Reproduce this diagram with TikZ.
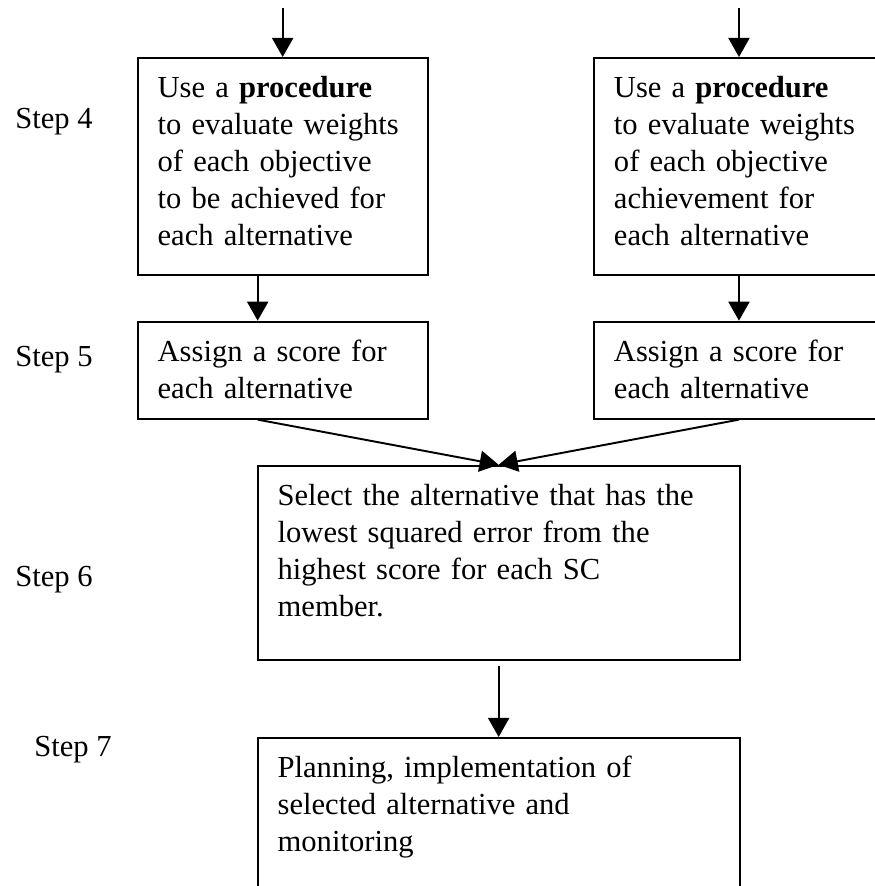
\documentclass[tikz,border=0pt]{standalone}
\usepackage{fontspec}
\setmainfont{Liberation Serif}
\usepackage{tikz}
\usetikzlibrary{arrows.meta}
\tikzset{
  box/.style={draw,line width=1.1pt,rectangle,anchor=north west,align=left,inner xsep=0.4cm,inner ysep=0pt,text height=0.79cm,font=\fontsize{17.4}{21.06}\selectfont},
  arr/.style={line width=1.1pt,-{Triangle[length=0.38cm,width=0.42cm]}},
  lbl/.style={anchor=base west,inner sep=0pt,font=\fontsize{17.4}{21.06}\selectfont}
}

\begin{document}
\begin{tikzpicture}
\useasboundingbox (0,0) rectangle (17.48,17.72);
\node[box,text width=5cm,text depth=3.56cm] (use1) at (2.734,16.58) {Use a \textbf{procedure}\\ to evaluate weights\\ of each objective\\ to be achieved for\\ each alternative};
\node[box,text width=5cm,text depth=3.56cm] (use2) at (11.86,16.58) {Use a \textbf{procedure}\\ to evaluate weights\\ of each objective\\ achievement for\\ each alternative};
\node[box,text width=5cm,text depth=1.15cm] (score1) at (2.734,11.306) {Assign a score for\\ each alternative};
\node[box,text width=5cm,text depth=1.15cm] (score2) at (11.86,11.306) {Assign a score for\\ each alternative};
\node[box,text width=8.84cm,text depth=3.09cm] (select) at (5.134,8.424) {Select the alternative that has the\\ lowest squared error from the\\ highest score for each SC\\ member.};
\node[box,text width=8.84cm,text depth=3.5cm] (plan) at (5.134,2.98) {Planning, implementation of\\ selected alternative and\\ monitoring};
\node[lbl] (s4) at (0.3,15.14) {Step 4};
\node[lbl] (s5) at (0.3,10.38) {Step 5};
\node[lbl] (s6) at (0.3,5.98) {Step 6};
\node[lbl] (s7) at (0.68,2.58) {Step 7};
\coordinate (in1) at ([yshift=0.98cm]use1.north);
\coordinate (in2) at ([yshift=0.98cm]use2.north);
\draw[arr] (in1) -- (use1.north);
\draw[arr] (in2) -- (use2.north);
\draw[arr] ([xshift=-0.5cm]use1.south) -- ([xshift=-0.5cm]score1.north);
\draw[arr] (use2.south) -- (score2.north);
\draw[arr] ([xshift=-0.5cm]score1.south) -- (select.north);
\draw[arr] (score2.south) -- (select.north);
\draw[arr,shorten <=0.1cm] (select.south) -- (plan.north);
\end{tikzpicture}
\end{document}
